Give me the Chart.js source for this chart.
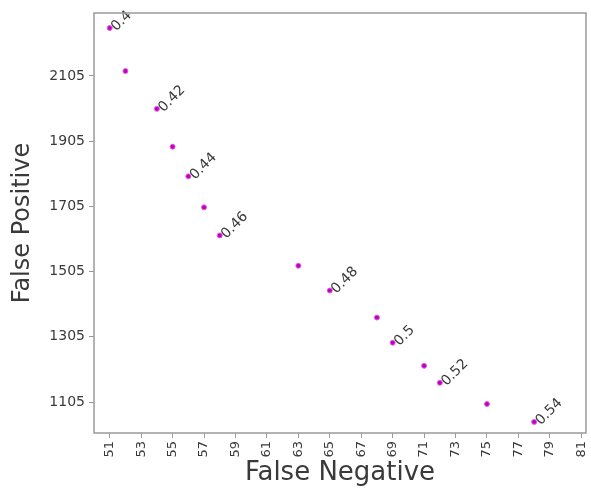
<!DOCTYPE html>
<html>
<head>
<meta charset="utf-8">
<script src="https://cdn.jsdelivr.net/npm/chart.js@4.4.1/dist/chart.umd.min.js"></script>
<style>
  html, body { margin: 0; padding: 0; background: #fff; }
  #wrap { width: 591px; height: 489px; }
</style>
</head>
<body>
<div id="wrap"><canvas id="fnfp" width="591" height="489"></canvas></div>
<script>
// threshold sweep: false negatives vs false positives
const thresholds = ['0.4', '', '0.42', '', '0.44', '', '0.46', '', '0.48', '', '0.5', '', '0.52', '', '0.54'];
const falseNeg = [51, 52, 54, 55, 56, 57, 58, 63, 65, 68, 69, 71, 72, 75, 78];
const falsePos = [2252, 2120, 2004, 1888, 1797, 1702, 1616, 1523, 1447, 1364, 1287, 1216, 1164, 1099, 1044];
const xTicks = [51, 53, 55, 57, 59, 61, 63, 65, 67, 69, 71, 73, 75, 77, 79, 81];
const yTicks = [1105, 1305, 1505, 1705, 1905, 2105];

const textColor = '#3a3a3a';
const frameColor = '#9a9a9a';

const frameBox = {
  id: 'frameBox',
  afterDraw(chart) {
    const { ctx, chartArea: a } = chart;
    ctx.save();
    ctx.strokeStyle = frameColor;
    ctx.lineWidth = 1.5;
    ctx.strokeRect(a.left, a.top, a.right - a.left, a.bottom - a.top);
    ctx.restore();
  }
};

const pointLabels = {
  id: 'pointLabels',
  afterDatasetsDraw(chart) {
    const { ctx } = chart;
    const meta = chart.getDatasetMeta(0);
    ctx.save();
    ctx.fillStyle = textColor;
    ctx.font = '14px "DejaVu Sans"';
    ctx.textBaseline = 'middle';
    ctx.textAlign = 'left';
    meta.data.forEach((pt, i) => {
      if (!thresholds[i]) return;
      ctx.save();
      ctx.translate(pt.x + 4, pt.y + 1);
      ctx.rotate(-Math.PI / 4);
      ctx.fillText(thresholds[i], 0, 0);
      ctx.restore();
    });
    ctx.restore();
  }
};

new Chart(document.getElementById('fnfp'), {
  type: 'scatter',
  data: {
    datasets: [{
      data: falseNeg.map((x, i) => ({ x, y: falsePos[i] })),
      backgroundColor: '#c000c0',
      borderColor: '#e060e0',
      borderWidth: 1,
      pointRadius: 2.5
    }]
  },
  options: {
    responsive: false,
    animation: false,
    layout: { padding: { top: 13, right: 3, left: 0, bottom: 0 } },
    plugins: { legend: { display: false }, tooltip: { enabled: false } },
    scales: {
      x: {
        type: 'linear',
        min: 50,
        max: 81.3,
        afterBuildTicks: (s) => { s.ticks = xTicks.map((v) => ({ value: v })); },
        afterFit: (s) => { s.height = 56; s.paddingLeft = 0; s.paddingRight = 0; },
        border: { display: false },
        grid: { drawOnChartArea: false, drawTicks: true, tickLength: 5, color: frameColor },
        ticks: {
          color: textColor,
          font: { family: 'DejaVu Sans', size: 13 },
          minRotation: 90,
          maxRotation: 90,
          padding: 3,
          autoSkip: false,
          callback: (v) => String(v)
        },
        title: {
          display: true,
          text: 'False Negative',
          color: textColor,
          font: { family: 'DejaVu Sans', size: 26 },
          padding: { top: 0, bottom: 0 }
        }
      },
      y: {
        type: 'linear',
        min: 1010,
        max: 2298,
        afterBuildTicks: (s) => { s.ticks = yTicks.map((v) => ({ value: v })); },
        afterFit: (s) => { s.width = 94; s.paddingTop = 0; s.paddingBottom = 0; },
        border: { display: false },
        grid: { drawOnChartArea: false, drawTicks: true, tickLength: 5, color: frameColor },
        ticks: {
          color: textColor,
          font: { family: 'DejaVu Sans', size: 14 },
          padding: 4,
          callback: (v) => String(v)
        },
        title: {
          display: true,
          text: 'False Positive',
          color: textColor,
          font: { family: 'DejaVu Sans', size: 24 },
          padding: { top: 8, bottom: 0 }
        }
      }
    }
  },
  plugins: [frameBox, pointLabels]
});
</script>
</body>
</html>
